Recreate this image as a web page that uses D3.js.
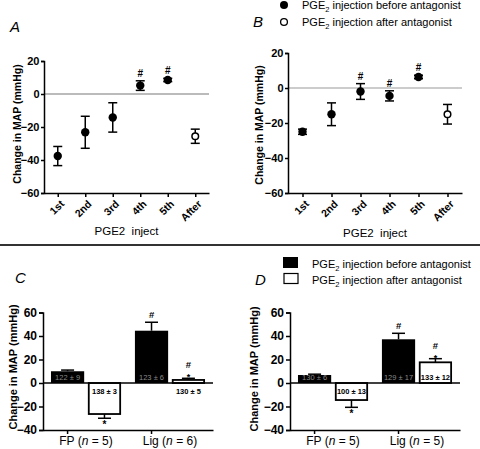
<!DOCTYPE html>
<html><head><meta charset="utf-8">
<script src="https://cdn.jsdelivr.net/npm/d3@7"></script>
<style>
body{margin:0;background:#fff;}
svg{display:block;font-family:Arial,"Liberation Sans",Helvetica,sans-serif;}
</style></head><body>
<svg id="chart" width="480" height="449"></svg>
<script>
// ---------- data ----------
const injLabels = ["1st","2nd","3rd","4th","5th","After"];
const aMean = [-37.6,-23.2,-14.2,5.1,8.5,-25.6];
const aSem  = [5.8,9.7,8.9,2.9,1,4.3];
const aSig  = ["","","","#","#",""];
const bMean = [-25,-15,-2,-4.5,6.3,-15];
const bSem  = [1.5,6.5,4.5,2.9,1,5.6];
const bSig  = ["","","#","#","#",""];
const afterIndex = 5; // "After" is the open-circle point
const yTicksTop = [20,0,-20,-40,-60];

const groups = ["FP","Lig"];
const cN = ["5","6"];
const cBefore = [10,44.5], cBeforeSem=[1,7.2];
const cAfter  = [-26.4,2.6], cAfterSem=[3.6,1.4];
const cBeforeLab = ["122 ± 9","123 ± 6"], cAfterLab=["138 ± 3","130 ± 5"];
const cBeforeSig = ["","#"], cAfterSig=["*","#*"];
const dN = ["5","5"];
const dBefore = [6.8,37.2], dBeforeSem=[0.7,5.1];
const dAfter  = [-14.5,17.6], dAfterSem=[6.2,3.1];
const dBeforeLab = ["130 ± 6","129 ± 17"], dAfterLab=["100 ± 13","133 ± 12"];
const dBeforeSig = ["","#"], dAfterSig=["*","#*"];
const yTicksBot = [60,40,20,0,-20,-40];

const svg = d3.select("#chart");

function styleAxis(g){
  g.selectAll("path,line").attr("stroke","#000").attr("stroke-width",1.5);
  g.selectAll("text").attr("font-weight","bold").attr("font-size","11px").attr("fill","#000")
   .attr("font-family","Arial,'Liberation Sans',sans-serif");
}
const fmt = d => d<0 ? "\u2212"+Math.abs(d) : String(d);

function yLabel(x, yc, size){
  svg.append("text").attr("transform",`translate(${x},${yc}) rotate(-90)`)
    .attr("text-anchor","middle").attr("font-weight","bold").attr("font-size",size+"px")
    .text("Change in MAP (mmHg)");
}

// ---------- scatter panels ----------
function scatterPanel(opt){
  const {x0,x1,yTop,yBot,mean,sem,sig,zeroStroke,zeroW} = opt;
  const x = d3.scalePoint().domain(injLabels).range([x0,x1]).padding(0.5);
  const y = d3.scaleLinear().domain([-60,20]).range([yBot,yTop]);
  svg.append("line").attr("x1",x0).attr("x2",x1).attr("y1",y(0)).attr("y2",y(0))
    .attr("stroke",zeroStroke).attr("stroke-width",zeroW);
  const ga = svg.append("g").attr("transform",`translate(${x0},0)`)
    .call(d3.axisLeft(y).tickValues(yTicksTop).tickFormat(fmt).tickSize(3).tickPadding(1.5));
  styleAxis(ga);
  const gx = svg.append("g").attr("transform",`translate(0,${yBot})`)
    .call(d3.axisBottom(x).tickSize(4).tickSizeOuter(0));
  styleAxis(gx);
  gx.selectAll("text").attr("text-anchor","end").attr("font-size","10.5px")
    .attr("x",0).attr("y",0).attr("dy","0.35em").attr("dx",0)
    .attr("transform","translate(4,9) rotate(-45)");
  const pts = injLabels.map((k,i)=>({k,m:mean[i],s:sem[i],sig:sig[i],open:i===afterIndex}));
  const g = svg.append("g");
  pts.forEach(p=>{
    const cx = x(p.k);
    g.append("line").attr("x1",cx).attr("x2",cx).attr("y1",y(p.m-p.s)).attr("y2",y(p.m+p.s))
      .attr("stroke","#000").attr("stroke-width",1.5);
    [p.m-p.s,p.m+p.s].forEach(v=>g.append("line").attr("x1",cx-4.5).attr("x2",cx+4.5)
      .attr("y1",y(v)).attr("y2",y(v)).attr("stroke","#000").attr("stroke-width",1.5));
    if(p.open){
      g.append("circle").attr("cx",cx).attr("cy",y(p.m)).attr("r",3.3)
        .attr("fill","#fff").attr("stroke","#000").attr("stroke-width",1.5);
    } else {
      g.append("circle").attr("cx",cx).attr("cy",y(p.m)).attr("r",4.2).attr("fill","#000");
    }
    if(p.sig){
      g.append("text").attr("x",cx).attr("y",y(p.m+p.s)-4).attr("text-anchor","middle")
        .attr("font-weight","bold").attr("font-size","10px").text(p.sig);
    }
  });
  svg.append("text").attr("x",(x0+x1)/2).attr("y",opt.titleY).attr("text-anchor","middle")
    .attr("font-size","11.5px").attr("xml:space","preserve").text("PGE2  inject");
}
scatterPanel({x0:44,x1:209,yTop:61,yBot:193,mean:aMean,sem:aSem,sig:aSig,zeroStroke:"#bbb",zeroW:1.8,titleY:235});
scatterPanel({x0:288,x1:462,yTop:53,yBot:193,mean:bMean,sem:bSem,sig:bSig,zeroStroke:"#999",zeroW:1,titleY:237});
yLabel(21,124,10.5);
yLabel(263,125,10.5);

// panel letters
function letter(t,x,y){
  svg.append("text").attr("x",x).attr("y",y).attr("font-style","italic")
    .attr("font-size","15px").text(t);
}
letter("A",10,32); letter("B",253,27); letter("C",15,283); letter("D",255,285);

// top legend
function legText(x,y,rest){
  const t = svg.append("text").attr("x",x).attr("y",y).attr("font-size","11px");
  t.append("tspan").text("PGE");
  t.append("tspan").attr("font-size","7.5px").attr("dy",3).text("2");
  t.append("tspan").attr("dy",-3).text(" "+rest);
}
svg.append("circle").attr("cx",284).attr("cy",5).attr("r",4).attr("fill","#000");
svg.append("circle").attr("cx",284).attr("cy",22).attr("r",3.4).attr("fill","#fff").attr("stroke","#000").attr("stroke-width",1.3);
legText(302,9,"injection before antagonist");
legText(302,26,"injection after antagonist");

// separator
svg.append("line").attr("x1",0).attr("x2",480).attr("y1",245).attr("y2",245)
  .attr("stroke","#333").attr("stroke-width",2);

// bottom legend
svg.append("rect").attr("x",283).attr("y",257).attr("width",15).attr("height",11).attr("fill","#000");
svg.append("rect").attr("x",284).attr("y",273.5).attr("width",14).attr("height",10).attr("fill","#fff").attr("stroke","#000").attr("stroke-width",1.2);
legText(312,268,"injection before antagonist");
legText(312,284,"injection after antagonist");

// ---------- bar panels ----------
function barPanel(opt){
  const {x0,x1,n,before,beforeSem,after,afterSem,beforeLab,afterLab,beforeSig,afterSig} = opt;
  const yTop=312.5, yBot=430;
  const y = d3.scaleLinear().domain([-40,60]).range([yBot,yTop]);
  const xg = d3.scaleBand().domain(groups).range([x0,x1]).paddingInner(0.165).paddingOuter(0.095);
  const xi = d3.scaleBand().domain(["before","after"]).range([0,xg.bandwidth()]).paddingInner(0.1).paddingOuter(0);
  const g = svg.append("g");
  const rows = groups.map((k,i)=>[
    {k,s:"before",v:before[i],e:beforeSem[i],lab:beforeLab[i],sig:beforeSig[i]},
    {k,s:"after",v:after[i],e:afterSem[i],lab:afterLab[i],sig:afterSig[i]}]).flat();
  rows.forEach(r=>{
    const bx = xg(r.k)+xi(r.s), bw = xi.bandwidth(), cx = bx+bw/2;
    const top = y(Math.max(0,r.v)), h = Math.abs(y(r.v)-y(0));
    const tip = r.v>=0 ? r.v+r.e : r.v-r.e;
    g.append("line").attr("x1",cx).attr("x2",cx).attr("y1",y(r.v)).attr("y2",y(tip))
      .attr("stroke","#000").attr("stroke-width",1.5);
    g.append("line").attr("x1",cx-6.5).attr("x2",cx+6.5).attr("y1",y(tip)).attr("y2",y(tip))
      .attr("stroke","#000").attr("stroke-width",1.5);
    if(r.s==="before"){
      g.append("rect").attr("x",bx).attr("y",top).attr("width",bw).attr("height",h).attr("fill","#000");
      g.append("text").attr("x",cx).attr("y",y(0)-3).attr("text-anchor","middle")
        .attr("font-size","7.5px").attr("fill","#8a8a8a").text(r.lab);
    } else {
      g.append("rect").attr("x",bx+0.9).attr("y",top).attr("width",bw-1.8).attr("height",h)
        .attr("fill","#fff").attr("stroke","#000").attr("stroke-width",1.8);
      let ly = (r.v<0 || h<12) ? y(0)+11 : y(0)-3;
      g.append("text").attr("x",cx).attr("y",ly).attr("text-anchor","middle")
        .attr("font-size","7.5px").attr("font-weight","bold").text(r.lab);
    }
    if(r.sig){
      if(r.v<0){
        g.append("text").attr("x",cx).attr("y",y(tip)+10).attr("text-anchor","middle")
          .attr("font-size","10px").attr("font-weight","bold").text("*");
      } else {
        const chars = r.sig.split("").reverse();
        let yy = y(tip)-2;
        chars.forEach(c=>{
          const isStar = c==="*";
          g.append("text").attr("x",cx).attr("y",isStar?yy+4:yy-2).attr("text-anchor","middle")
            .attr("font-size",isStar?"9px":"9.5px").attr("font-weight","bold").text(c);
          yy -= isStar ? 6 : 11;
        });
      }
    }
  });
  svg.append("line").attr("x1",x0).attr("x2",x1).attr("y1",y(0)).attr("y2",y(0))
    .attr("stroke","#000").attr("stroke-width",1.5);
  const ga = svg.append("g").attr("transform",`translate(${x0},0)`)
    .call(d3.axisLeft(y).tickValues(yTicksBot).tickFormat(fmt).tickSize(4).tickPadding(2));
  styleAxis(ga);
  ga.selectAll("text").attr("font-size","12px");
  const gx = svg.append("g").attr("transform",`translate(0,${yBot})`)
    .call(d3.axisBottom(xg).tickSize(0).tickFormat(""));
  styleAxis(gx);
  groups.forEach((k,i)=>{
    const tx = xg(k)+xi("before")+xi.bandwidth()/2;
    svg.append("line").attr("x1",tx).attr("x2",tx).attr("y1",yBot).attr("y2",yBot+4)
      .attr("stroke","#000").attr("stroke-width",1.5);
    const t = svg.append("text").attr("x",xg(k)+xg.bandwidth()/2).attr("y",445)
      .attr("text-anchor","middle").attr("font-size","12px");
    t.append("tspan").text(k+" (");
    t.append("tspan").attr("font-style","italic").text("n");
    t.append("tspan").text(" = "+n[i]+")");
  });
}
barPanel({x0:43,x1:213,n:cN,before:cBefore,beforeSem:cBeforeSem,after:cAfter,afterSem:cAfterSem,
  beforeLab:cBeforeLab,afterLab:cAfterLab,beforeSig:cBeforeSig,afterSig:cAfterSig});
barPanel({x0:290,x1:460,n:dN,before:dBefore,beforeSem:dBeforeSem,after:dAfter,afterSem:dAfterSem,
  beforeLab:dBeforeLab,afterLab:dAfterLab,beforeSig:dBeforeSig,afterSig:dAfterSig});
yLabel(17,367,11);
yLabel(258,369,11);
</script></body></html>
